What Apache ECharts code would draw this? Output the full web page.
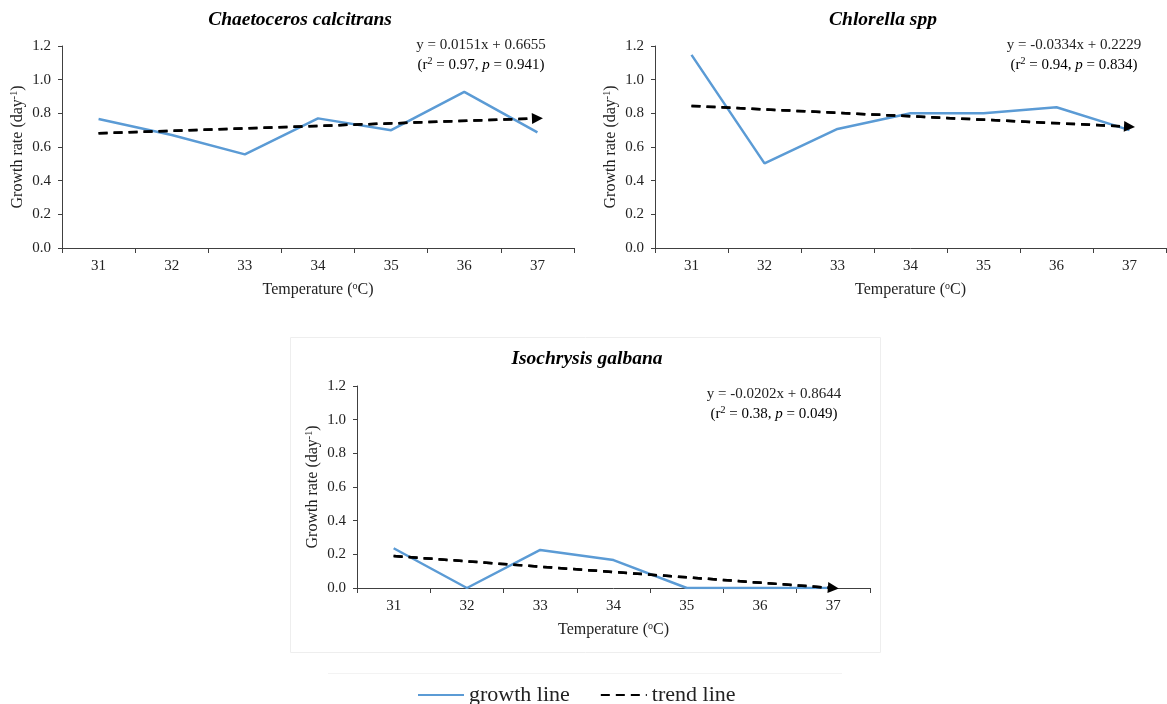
<!DOCTYPE html>
<html>
<head>
<meta charset="utf-8">
<script src="https://cdn.jsdelivr.net/npm/echarts@6/dist/echarts.min.js"></script>
<style>
html,body{margin:0;padding:0;background:#fff;}
#c{width:1167px;height:704px;}
</style>
</head>
<body>
<div id="c"></div>
<script>
// ---- data ----
var categories = ['31', '32', '33', '34', '35', '36', '37'];
var yTicks = [0, 0.2, 0.4, 0.6, 0.8, 1.0, 1.2];

var chaetoGrowth = [0.766, 0.671, 0.556, 0.770, 0.700, 0.928, 0.687];
var chaetoTrend = [0.681, 0.770];      // trend at 31 and 37

var chlorellaGrowth = [1.147, 0.503, 0.707, 0.800, 0.800, 0.836, 0.700];
var chlorellaTrend = [0.844, 0.721];

var isoGrowth = [0.236, 0.0, 0.226, 0.166, 0.0, 0.0, 0.0];
var isoTrend = [0.190, 0.0];

var titles = ['Chaetoceros calcitrans', 'Chlorella spp', 'Isochrysis galbana'];
var eqLine1 = ['y = 0.0151x + 0.6655', 'y = -0.0334x + 0.2229', 'y = -0.0202x + 0.8644'];
var eqR2 = ['0.97', '0.94', '0.38'];
var eqP = ['0.941', '0.834', '0.049'];

// ---- styles ----
var FONT = "'Liberation Serif', 'Times New Roman', serif";
var BLUE = '#5B9BD5';
var AX = '#404040';

var grids = [
  {left: 62, top: 46, width: 512, height: 202},
  {left: 655, top: 46, width: 511, height: 202},
  {left: 357, top: 386, width: 513, height: 202}
];

var growthSets = [chaetoGrowth, chlorellaGrowth, isoGrowth];
var trendSets = [chaetoTrend, chlorellaTrend, isoTrend];

var xAxes = [], yAxes = [], series = [];
grids.forEach(function (g, i) {
  xAxes.push({
    type: 'category', gridIndex: i, data: categories, boundaryGap: true,
    axisLine: {lineStyle: {color: AX, width: 1}},
    axisTick: {show: true, length: 5, alignWithLabel: false, lineStyle: {color: AX}},
    axisLabel: {color: '#222', fontFamily: FONT, fontSize: 15, margin: 11},
    name: 'Temperature ({sup|o}C)',
    nameLocation: 'middle', nameGap: 33,
    nameTextStyle: {color: '#222', fontFamily: FONT, fontSize: 16,
      rich: {sup: {fontSize: 10, fontFamily: FONT, color: '#222', verticalAlign: 'top', lineHeight: 18}}}
  });
  yAxes.push({
    type: 'value', gridIndex: i, min: yTicks[0], max: yTicks[yTicks.length - 1], interval: 0.2,
    splitLine: {show: false},
    axisLine: {show: true, lineStyle: {color: AX, width: 1}},
    axisTick: {show: true, length: 4, lineStyle: {color: AX}},
    axisLabel: {color: '#222', fontFamily: FONT, fontSize: 15, margin: 11,
      formatter: function (v) { return v.toFixed(1); }},
    name: 'Growth rate (day{sup|-1})',
    nameLocation: 'middle', nameGap: 35, nameRotate: 90,
    nameTextStyle: {color: '#222', fontFamily: FONT, fontSize: 16,
      rich: {sup: {fontSize: 10, fontFamily: FONT, color: '#222', verticalAlign: 'top', lineHeight: 18}}}
  });
  series.push({
    name: 'growth line', type: 'line', xAxisIndex: i, yAxisIndex: i,
    data: growthSets[i], symbol: 'none', smooth: false, z: 2,
    lineStyle: {color: BLUE, width: 2.5}, itemStyle: {color: BLUE}
  });
  var t = trendSets[i];
  series.push({
    name: 'trend line', type: 'line', xAxisIndex: i, yAxisIndex: i,
    data: [[categories[0], t[0]], [categories[categories.length - 1], t[1]]],
    symbol: 'none', z: 3,
    lineStyle: {color: '#000', width: 2.5, type: [9, 6]}, itemStyle: {color: '#000'},
    markLine: {
      silent: true, symbol: ['none', 'triangle'], symbolSize: 11, animation: false,
      label: {show: false},
      lineStyle: {color: '#000', width: 2.5, type: [9, 6]},
      data: [[{coord: [categories[0], t[0]]}, {coord: [categories[categories.length - 1], t[1]]}]]
    }
  });
});

var titlePos = [[300, 20], [883, 20], [587, 359]];
var eqPos = [[481, 45], [1074, 45], [774, 394]];
var graphics = [];
titles.forEach(function (tt, i) {
  graphics.push({
    type: 'text', x: titlePos[i][0], y: titlePos[i][1],
    style: {text: tt, textAlign: 'center', textVerticalAlign: 'middle',
      font: 'italic bold 19.5px ' + FONT, fill: '#000'}
  });
  graphics.push({
    type: 'text', x: eqPos[i][0], y: eqPos[i][1],
    style: {text: eqLine1[i], textAlign: 'center', textVerticalAlign: 'middle',
      font: '15px ' + FONT, fill: '#222'}
  });
  graphics.push({
    type: 'text', x: eqPos[i][0], y: eqPos[i][1] + 20,
    style: {
      text: '{n|(r}{s|2}{n| = ' + eqR2[i] + ', }{i|p}{n| = ' + eqP[i] + ')}',
      textAlign: 'center', textVerticalAlign: 'middle',
      rich: {
        n: {fontFamily: FONT, fontSize: 15, color: '#222', lineHeight: 18},
        i: {fontFamily: FONT, fontSize: 15, fontStyle: 'italic', color: '#222', lineHeight: 18},
        s: {fontFamily: FONT, fontSize: 10, color: '#222', verticalAlign: 'top', lineHeight: 18}
      }
    }
  });
});
graphics.push({
  type: 'rect', shape: {x: 290.5, y: 337.5, width: 590, height: 315}, z: -1,
  style: {fill: 'none', stroke: '#eeeeee', lineWidth: 1}
});
graphics.push({
  type: 'line', shape: {x1: 328, y1: 673.5, x2: 842, y2: 673.5}, z: -1,
  style: {stroke: '#f3f3f3', lineWidth: 1}
});

var chart = echarts.init(document.getElementById('c'), null, {renderer: 'canvas'});
chart.setOption({
  animation: false,
  backgroundColor: '#fff',
  grid: grids,
  xAxis: xAxes,
  yAxis: yAxes,
  series: series,
  graphic: graphics,
  legend: {
    data: ['growth line', 'trend line'],
    left: 417, top: 684, padding: 0,
    itemWidth: 46, itemHeight: 14, itemGap: 30,
    itemStyle: {opacity: 0},
    textStyle: {fontFamily: FONT, fontSize: 22, color: '#222'}
  }
});
</script>
</body>
</html>
